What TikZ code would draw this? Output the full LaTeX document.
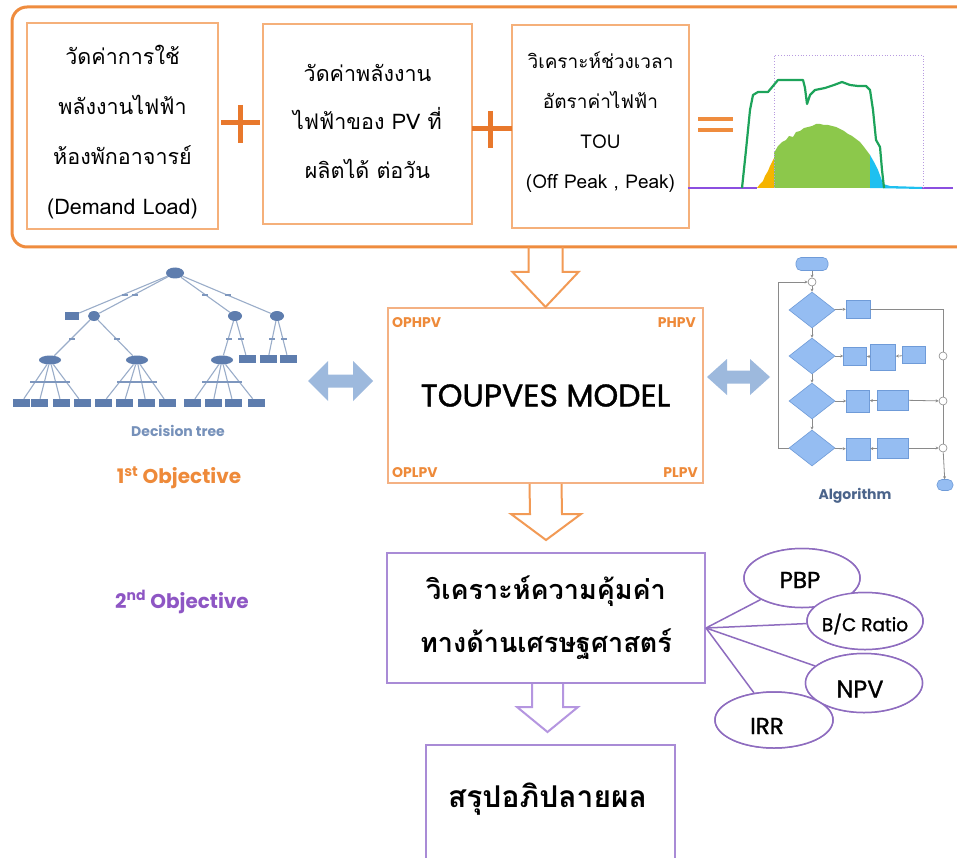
\documentclass[tikz,border=0pt]{standalone}
\usepackage{fontspec}
\usetikzlibrary{calc,shapes.geometric,arrows.meta}
\newfontfamily\thai[Script=Thai]{Loma}
\newfontfamily\pop{Poppins}
\newfontfamily\popm{Poppins}[FakeBold=1.2]
\definecolor{orF}{HTML}{EF8C3E}
\definecolor{orL}{HTML}{F5B07A}
\definecolor{orT}{HTML}{F4B183}
\definecolor{orA}{HTML}{F29A55}
\definecolor{plusC}{HTML}{E8782C}
\definecolor{orTxt}{HTML}{EE8A3A}
\definecolor{puB}{HTML}{A98BD6}
\definecolor{puE}{HTML}{8E6CBF}
\definecolor{puA}{HTML}{B596E0}
\definecolor{puTxt}{HTML}{8E56C4}
\definecolor{blueA}{HTML}{9DB9DD}
\definecolor{treeC}{HTML}{5E7DAE}
\definecolor{treeE}{HTML}{9AADC9}
\definecolor{flowF}{HTML}{95BDF2}
\definecolor{flowD}{HTML}{6F9BD8}
\definecolor{flowL}{HTML}{8A8A8A}
\definecolor{chPu}{HTML}{8B4FE0}
\definecolor{chOr}{HTML}{F5B400}
\definecolor{chGr}{HTML}{8CC84B}
\definecolor{chCy}{HTML}{1EC0F0}
\definecolor{chLn}{HTML}{1DA35A}
\definecolor{chDot}{HTML}{B89BE0}
\newcommand\hollowdown[6]{%
  \draw[#1] ($(#2)+(-#4,0)$) -- ($(#3)+(-#4,-#6)$) -- ($(#3)+(-#5,-#6)$) -- (#3)
    -- ($(#3)+(#5,-#6)$) -- ($(#3)+(#4,-#6)$) -- ($(#2)+(#4,0)$);}
\newcommand\dblarrow[5]{%
  \fill[blueA] ($(#1)+(-#2,0)$) -- ($(#1)+(-#2+#3,-#5)$) -- ($(#1)+(-#2+#3,-#4)$)
    -- ($(#1)+(#2-#3,-#4)$) -- ($(#1)+(#2-#3,-#5)$) -- ($(#1)+(#2,0)$)
    -- ($(#1)+(#2-#3,#5)$) -- ($(#1)+(#2-#3,#4)$) -- ($(#1)+(-#2+#3,#4)$)
    -- ($(#1)+(-#2+#3,#5)$) -- cycle;}
\begin{document}
\begin{tikzpicture}[x=1pt,y=-1pt,
  frame/.style={draw=orF,line width=3},
  obox/.style={draw=orL,line width=1.8,inner sep=0},
  btxt/.style={inner sep=0,align=center,font=\thai\fontsize{21.5}{50}\selectfont},
  plus/.style={draw=plusC,line width=5},
  hollowO/.style={draw=orA,line width=2,line join=miter},
  hollowP/.style={draw=puA,line width=2,line join=miter},
  corner/.style={font=\pop\bfseries\fontsize{14}{14}\selectfont,text=orTxt,inner sep=0},
  ell/.style={ellipse,draw=puE,line width=1.5,fill=white,inner sep=0},
  etxt/.style={inner sep=0,font=\popm\fontsize{23}{23}\selectfont},
  plink/.style={draw=puE,line width=1.5},
  tnode/.style={ellipse,fill=treeC,inner sep=0,minimum width=14,minimum height=10},
  tleaf/.style={rectangle,fill=treeC,inner sep=0,minimum width=17,minimum height=8},
  tlab/.style={rectangle,fill=treeC!80,inner sep=0,minimum width=6,minimum height=2.5},
  tedge/.style={draw=treeE,line width=1.1},
  fbox/.style={rectangle,fill=flowF,draw=flowD,line width=0.6,inner sep=0},
  fdia/.style={diamond,fill=flowF,draw=flowD,line width=0.6,inner sep=0,minimum width=46,minimum height=36},
  fcir/.style={circle,fill=white,draw=flowL,line width=0.6,inner sep=0,minimum size=8},
  fterm/.style={rectangle,rounded corners=5,fill=flowF,draw=flowD,line width=0.6,inner sep=0},
  fedge/.style={draw=flowL,line width=0.8},
  farr/.style={draw=flowL,line width=0.8,-{Stealth[length=3,width=3]}}
]
\useasboundingbox (0,0) rectangle (957,858);
\fill[white] (0,0) rectangle (957,858);

% ---------- top frame ----------
\draw[frame,rounded corners=15] (957,7) -- (12,7) -- (12,247) -- (957,247);
\coordinate (frameB) at (0,247);

\node[obox,minimum width=191,minimum height=206] (b1) at (122.5,126) {};
\node[btxt] (b1t) at ($(b1.center)+(0,6)$)
  {วัดค่าการใช้\\พลังงานไฟฟ้า\\ห้องพักอาจารย์\\(Demand Load)};
\node[obox,minimum width=209,minimum height=200] (b2) at (367.5,124) {};
\node[btxt,font=\thai\fontsize{21.5}{48.5}\selectfont] (b2t) at ($(b2.center)+(0,-3)$)
  {วัดค่าพลังงาน\\ไฟฟ้าของ PV ที่\\ผลิตได้ ต่อวัน};
\node[obox,minimum width=177,minimum height=203] (b3) at (600.5,126.5) {};
\node[btxt,font=\thai\fontsize{19}{40}\selectfont] (b3t) at ($(b3.center)+(0,-4)$)
  {วิเคราะห์ช่วงเวลา\\อัตราค่าไฟฟ้า\\TOU\\(Off Peak , Peak)};

\draw[plus] (221,123) -- (260,123);
\draw[plus] (240,105) -- (240,143);
\draw[plus] (472,129) -- (512,129);
\draw[plus] (490,111) -- (490,148);
\draw[plus,line width=4.5,draw=orF] (698,119) -- (733,119);
\draw[plus,line width=4.5,draw=orF] (698,130) -- (733,130);

% ---------- chart ----------
\fill[chOr] (757,188) -- (760,184) -- (763,181) -- (765,176) -- (768,171) -- (770,166) -- (772,162) -- (774,158) -- (774,188) -- cycle;
\fill[chGr] (774,188) -- (774,153) -- (778,146) -- (782,142) -- (786,140) -- (789,136) -- (793,137) -- (796,132) -- (800,131) -- (804,128) -- (808,127) -- (812,126) -- (816,124) -- (820,124) -- (824,125) -- (828,125) -- (832,126) -- (836,127) -- (840,129) -- (844,131) -- (848,134) -- (852,136) -- (856,139) -- (860,142) -- (864,147) -- (867,151) -- (870,155) -- (870,188) -- cycle;
\fill[chCy] (870,188) -- (870,155) -- (874,162) -- (878,170) -- (881,178) -- (883,184) -- (890,186) -- (922,187) -- (922,189) -- cycle;
\draw[chPu,line width=2.5] (688,188) -- (757,188);
\draw[chPu,line width=2.5] (922,188) -- (953,188);
\draw[chDot,dotted,line width=0.8] (774,188) -- (774,55) -- (923,55) -- (923,188);
\draw[chLn,line width=2.2,line join=round] (742,188) -- (746,150) -- (750,110) -- (753,95) -- (758,92) -- (768,92) -- (773,86) -- (778,80) -- (790,80) -- (803,80) -- (805,88) -- (807,104) -- (810,95) -- (815,90) -- (825,88) -- (834,85) -- (842,82) -- (850,85) -- (858,86) -- (866,86) -- (870,90) -- (873,110) -- (876,140) -- (880,147) -- (882,170) -- (884,188);

% ---------- TOUPVES model ----------
\node[draw=orT,line width=2,minimum width=315,minimum height=175,inner sep=0,
      font=\popm\fontsize{31.5}{31.5}\selectfont] (toup) at (545.5,395.5) {TOUPVES MODEL};
\node[corner,anchor=base west] (c1) at ($(toup.north west)+(5,20)$) {OPHPV};
\node[corner,anchor=base east] (c2) at ($(toup.north east)+(-8,20)$) {PHPV};
\node[corner,anchor=base west] (c3) at ($(toup.south west)+(5,-7)$) {OPLPV};
\node[corner,anchor=base east] (c4) at ($(toup.south east)+(-6,-7)$) {PLPV};

% ---------- economics ----------
\node[draw=puB,line width=2,minimum width=318,minimum height=130,inner sep=0,align=center,
      font=\thai\bfseries\fontsize{27}{53}\selectfont] (econ) at (546,618)
  {วิเคราะห์ความคุ้มค่า\\ทางด้านเศรษฐศาสตร์};
\begin{scope}
\clip (0,0) rectangle (957,858);
\node[draw=puB,line width=2,minimum width=249,minimum height=140,inner sep=0] (final) at (550.5,815) {};
\end{scope}
\node[font=\thai\bfseries\fontsize{30}{30}\selectfont,inner sep=0] (finalt) at ($(final.north)+(-3,55)$) {สรุปอภิปลายผล};

% hollow arrows
\coordinate (a1s) at (toup.north |- frameB);
\hollowdown{hollowO}{a1s}{toup.north}{17}{33}{35}
\coordinate (a2t) at ($(econ.north)+(0,-12)$);
\hollowdown{hollowO}{toup.south}{a2t}{16}{35}{26}
\coordinate (a3s) at ($(econ.south)+(1.5,0)$);
\coordinate (a3t) at ($(a3s |- final.north)+(0,-12)$);
\hollowdown{hollowP}{a3s}{a3t}{15.5}{30.5}{25}

% ---------- indicators ----------
\coordinate (src) at ($(econ.east)+(0,10)$);
\node[ell,minimum width=116,minimum height=59] (pbp) at (802,578) {};
\node[ell,minimum width=116,minimum height=57] (bc) at (865,621) {};
\node[ell,minimum width=117,minimum height=59] (npv) at (864,683) {};
\node[ell,minimum width=118,minimum height=56] (irr) at (774,720) {};
\draw[plink] (src) -- (pbp);
\draw[plink] (src) -- (bc);
\draw[plink] (src) -- (npv);
\draw[plink] (src) -- (irr);
% ellipses drawn again over the link ends, with their labels
\node[ell,minimum width=116,minimum height=59] (pbp2) at (pbp) {};
\node[etxt] (pbpt) at ($(pbp)+(-2,2)$) {PBP};
\node[ell,minimum width=116,minimum height=57] (bc2) at (bc) {};
\node[etxt,font=\popm\fontsize{18.5}{18.5}\selectfont] (bct) at ($(bc)+(0,3)$) {B/C Ratio};
\node[ell,minimum width=117,minimum height=59] (npv2) at (npv) {};
\node[etxt,font=\popm\fontsize{24}{24}\selectfont] (npvt) at ($(npv)+(-4,6)$) {NPV};
\node[ell,minimum width=118,minimum height=56] (irr2) at (irr) {};
\node[etxt] (irrt) at ($(irr)+(-7,6)$) {IRR};

% ---------- objectives ----------
\node[font=\pop\bfseries\fontsize{20}{20}\selectfont,text=orTxt] (obj1) at (179,478) {1\textsuperscript{st} Objective};
\node[font=\pop\bfseries\fontsize{20}{20}\selectfont,text=puTxt] (obj2) at (182,602) {2\textsuperscript{nd} Objective};

% ---------- double arrows ----------
\coordinate (dl) at (340.5,381);
\coordinate (dr) at (738.5,377);
\dblarrow{dl}{32.5}{20}{6.5}{20}
\dblarrow{dr}{31.5}{20}{6.5}{18}

% ---------- decision tree ----------
\node[tnode,minimum width=18,minimum height=11] (r) at (175,273) {};
\node[tleaf,minimum width=14] (t1) at (72,316) {};
\node[tnode,minimum width=12] (t2) at (94,316) {};
\node[tnode,minimum width=14] (t3) at (235,316) {};
\node[tnode,minimum width=14] (t4) at (277,316) {};
\node[tnode,minimum width=22,minimum height=9] (u1) at (50,360) {};
\node[tnode,minimum width=22,minimum height=9] (u2) at (137,360) {};
\node[tnode,minimum width=22,minimum height=9] (u3) at (222,360) {};
\node[tleaf] (v1) at (247,359) {};
\node[tleaf] (v2) at (268,359) {};
\node[tleaf] (v3) at (288,359) {};
\foreach \s/\t in {r/t1,r/t2,r/t3,r/t4,t2/u1,t2/u2,t3/u3,t3/v1,t4/v2,t4/v3}
  \draw[tedge] (\s) -- (\t);
\foreach \x [count=\i] in {21,39,61,82} {\node[tleaf] (la\i) at (\x,403) {}; \draw[tedge] (u1) -- (la\i);}
\foreach \x [count=\i] in {103,124,146,167} {\node[tleaf] (lb\i) at (\x,403) {}; \draw[tedge] (u2) -- (lb\i);}
\foreach \x [count=\i] in {192,213,233,256} {\node[tleaf] (lc\i) at (\x,403) {}; \draw[tedge] (u3) -- (lc\i);}
\node[tlab,minimum width=40] (lu1) at (50,382) {};
\node[tlab,minimum width=40] (lu2) at (137,382) {};
\node[tlab,minimum width=40] (lu3) at (222,382) {};
\foreach \x/\y [count=\i] in {125/295,135/295,205/295,228/295,72/339,117/339,229/339,241/339,272/339,284/339}
  \node[tlab] (el\i) at (\x,\y) {};
\node[font=\pop\bfseries\fontsize{14}{14}\selectfont,text=treeC!85] (dtl) at (178,431) {Decision tree};

% ---------- algorithm flowchart ----------
\node[fterm,minimum width=32,minimum height=13] (fs) at (812,264) {};
\node[fcir] (j0) at (812,282) {};
\node[fdia] (d1) at (812,310) {};
\node[fdia] (d2) at (812,356) {};
\node[fdia] (d3) at (812,401) {};
\node[fdia] (d4) at (812,448) {};
\node[fbox,minimum width=24,minimum height=18] (r1a) at (858,309) {};
\node[fbox,minimum width=23,minimum height=18] (r2a) at (855,356) {};
\node[fbox,minimum width=25,minimum height=26] (r2b) at (883,357) {};
\node[fbox,minimum width=23,minimum height=17] (r2c) at (914,355) {};
\node[fbox,minimum width=23,minimum height=22] (r3a) at (858,401) {};
\node[fbox,minimum width=31,minimum height=20] (r3b) at (893,400) {};
\node[fbox,minimum width=24,minimum height=22] (r4a) at (858,449) {};
\node[fbox,minimum width=31,minimum height=20] (r4b) at (893,448) {};
\node[fcir] (k2) at (943,356) {};
\node[fcir] (k3) at (943,401) {};
\node[fcir] (k4) at (943,448) {};
\node[fterm,minimum width=16,minimum height=11] (fe) at (945,485) {};
\coordinate (lp1) at (778,448);
\coordinate (lp2) at (778,282);
\coordinate (rp1) at (943,309);
\draw[farr] (fs) -- (j0);
\draw[farr] (j0) -- (d1);
\draw[farr] (d1) -- (d2);
\draw[farr] (d2) -- (d3);
\draw[farr] (d3) -- (d4);
\draw[farr] (d1) -- (r1a);
\draw[farr] (d2) -- (r2a);
\draw[farr] (r2b) -- (r2a);
\draw[farr] (r2c) -- (r2b);
\draw[farr] (d3) -- (r3a);
\draw[farr] (r3b) -- (r3a);
\draw[farr] (d4) -- (r4a);
\draw[farr] (r4b) -- (r4a);
\draw[fedge] (d4) -- (lp1) -- (lp2);
\draw[farr] (lp2) -- (j0);
\draw[fedge] (r1a) -- (rp1) -- (k2);
\draw[fedge] (k2) -- (k3);
\draw[fedge] (k3) -- (k4);
\draw[farr] (k4) -- (fe);
\draw[farr] (r3b) -- (k3);
\draw[farr] (r4b) -- (k4);
\node[font=\pop\bfseries\fontsize{14}{14}\selectfont,text=treeC!80!black] (alg) at (855,496) {Algorithm};
\end{tikzpicture}
\end{document}
